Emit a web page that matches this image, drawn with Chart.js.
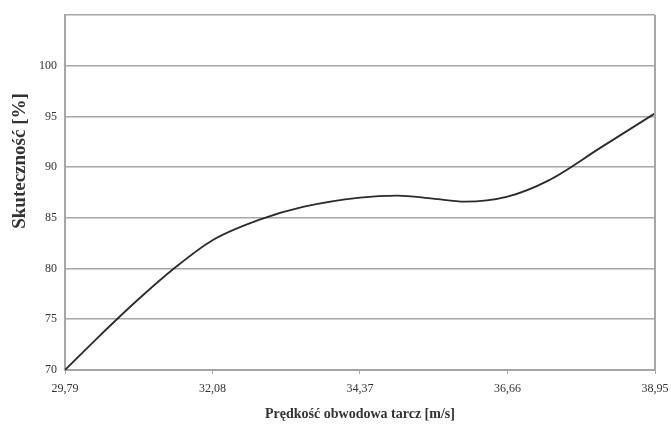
<!DOCTYPE html>
<html>
<head>
<meta charset="utf-8">
<script src="https://cdn.jsdelivr.net/npm/chart.js@4"></script>
<style>
  html, body { margin: 0; padding: 0; background: #fff; }
  #wrap { width: 671px; height: 427px; position: relative; }
</style>
</head>
<body>
<div id="wrap"><canvas id="chart"></canvas></div>
<script>
// values
const speeds = [29.79, 30.3, 30.9, 31.5, 32.08, 32.8, 33.5, 34.37, 34.95, 35.5, 36.0, 36.66, 37.3, 38.1, 38.95];
const efficiency = [70.0, 73.2, 76.8, 80.1, 82.8, 84.8, 86.1, 87.0, 87.2, 86.9, 86.6, 87.1, 88.7, 91.9, 95.3];
const xTicks = [29.79, 32.08, 34.37, 36.66, 38.95];
const yTicks = [70, 75, 80, 85, 90, 95, 100, 105];

const xTitle = 'Prędkość obwodowa tarcz [m/s]';
const yTitle = 'Skuteczność [%]';

const serif = 'Liberation Serif';
const gridGrey = '#a6a6a6';

// y title drawn by hand so it sits where the original one is
const yTitlePlugin = {
    id: 'yTitle',
    afterDraw: function(c) {
        const g = c.ctx;
        const a = c.chartArea;
        g.save();
        g.strokeStyle = gridGrey;
        g.lineWidth = 2;
        g.beginPath();
        g.moveTo(a.right, a.top);
        g.lineTo(a.right, a.bottom);
        g.stroke();

        g.font = 'bold 19px ' + serif;
        g.fillStyle = '#333';
        g.textAlign = 'center';
        g.textBaseline = 'middle';
        g.translate(20, 161);
        g.rotate(-Math.PI / 2);
        g.fillText(yTitle, 0, 0);
        g.restore();
    }
};

const ctx = document.getElementById('chart').getContext('2d');
const chart = new Chart(ctx, {
    type: 'line',
    data: {
        datasets: [{
            data: speeds.map((s, i) => ({ x: s, y: efficiency[i] })),
            borderColor: '#2b2b2b',
            borderWidth: 1.8,
            pointRadius: 0,
            cubicInterpolationMode: 'monotone',
            fill: false
        }]
    },
    options: {
        responsive: true,
        maintainAspectRatio: false,
        animation: false,
        layout: { padding: { top: 15, right: 16, left: 0, bottom: 0 } },
        plugins: {
            legend: { display: false },
            tooltip: { enabled: false }
        },
        scales: {
            x: {
                type: 'linear',
                min: 29.79,
                max: 38.95,
                afterBuildTicks: function(scale) {
                    scale.ticks = xTicks.map(v => ({ value: v }));
                },
                afterFit: function(scale) {
                    scale.height = 57;
                    scale.paddingLeft = 0;
                    scale.paddingRight = 0;
                },
                ticks: {
                    autoSkip: false,
                    maxRotation: 0,
                    padding: 8,
                    color: '#333',
                    font: { family: serif, size: 12 },
                    callback: v => v.toFixed(2).replace('.', ',')
                },
                grid: {
                    drawOnChartArea: false,
                    color: gridGrey,
                    tickLength: 4
                },
                border: { color: gridGrey, width: 2 },
                title: {
                    display: true,
                    text: xTitle,
                    color: '#333',
                    font: { family: serif, size: 14, weight: 'bold' },
                    padding: { top: 0 }
                }
            },
            y: {
                min: 70,
                max: 105,
                afterBuildTicks: function(scale) {
                    scale.ticks = yTicks.map(v => ({ value: v }));
                },
                afterFit: function(scale) {
                    scale.width = 65;
                    scale.paddingTop = 0;
                    scale.paddingBottom = 0;
                },
                ticks: {
                    color: '#333',
                    padding: 8,
                    font: { family: serif, size: 12 },
                    callback: v => (v === 105 ? '' : v)
                },
                grid: {
                    color: gridGrey,
                    lineWidth: 1.6,
                    drawTicks: false
                },
                border: { color: gridGrey, width: 2 },
                title: { display: false }
            }
        }
    },
    plugins: [yTitlePlugin]
});
</script>
</body>
</html>
